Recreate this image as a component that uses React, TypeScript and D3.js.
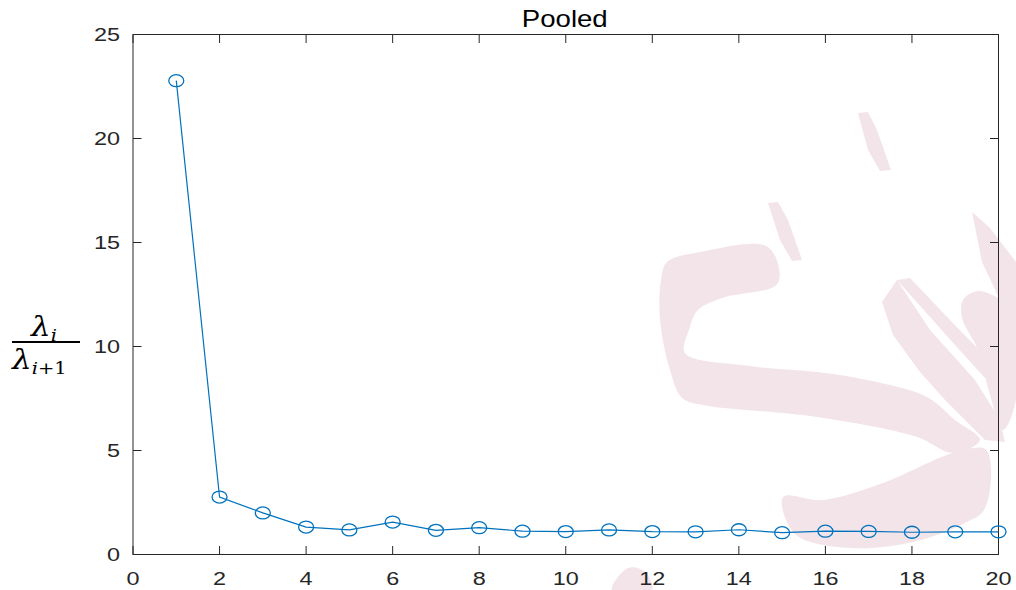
import React, { useEffect, useRef } from "react";
import * as d3 from "d3";

const indices = [1, 2, 3, 4, 5, 6, 7, 8, 9, 10, 11, 12, 13, 14, 15, 16, 17, 18, 19, 20];
const ratios = [22.78, 2.76, 2.0, 1.32, 1.18, 1.56, 1.16, 1.29, 1.12, 1.1, 1.18, 1.1, 1.09, 1.19, 1.05, 1.12, 1.11, 1.07, 1.09, 1.09];
const xTicks = [0, 2, 4, 6, 8, 10, 12, 14, 16, 18, 20];
const yTicks = [0, 5, 10, 15, 20, 25];
const titleText = "Pooled";

// Faint background emblem shapes (pixel space); smooth = rounded outline
const emblemShapes: { smooth: boolean; pts: [number, number][] }[] = [
  { smooth: true, pts: [[667, 262], [700, 252], [768, 247], [778, 283], [722, 298], [698, 310], [689, 330], [685, 353], [750, 366], [817, 372], [872, 381], [927, 397], [955, 420], [980, 440], [953, 453], [917, 437], [817, 417], [703, 405], [682, 398], [670, 370], [660, 320], [661, 280]] },
  { smooth: true, pts: [[783, 497], [823, 500], [883, 483], [953, 453], [985, 449], [991, 468], [984, 510], [967, 522], [917, 541], [850, 548], [795, 534]] },
  { smooth: false, pts: [[882, 302], [897, 280], [930, 330], [975, 380], [1000, 420], [1005, 442], [985, 440], [945, 400], [920, 372], [893, 335]] },
  { smooth: false, pts: [[897, 280], [910, 278], [950, 320], [985, 356], [995, 372], [985, 378], [955, 345]] },
  { smooth: false, pts: [[972, 212], [990, 228], [1016, 262], [1016, 330], [1000, 300], [982, 262]] },
  { smooth: true, pts: [[963, 300], [978, 291], [1000, 298], [1016, 302], [1016, 400], [1003, 430], [990, 395], [978, 350], [962, 318]] },
  { smooth: false, pts: [[858, 113], [868, 112], [877, 130], [891, 170], [880, 171], [868, 150]] },
  { smooth: false, pts: [[768, 203], [778, 202], [788, 220], [802, 260], [792, 261], [780, 240]] },
  { smooth: true, pts: [[612, 590], [628, 568], [645, 572], [652, 590]] },
];

export default function App() {
  const ref = useRef<SVGSVGElement | null>(null);

  useEffect(() => {
    const svg = d3.select(ref.current);
    svg.selectAll("*").remove();

    const left = 133, right = 998.5, top = 34.5, bottom = 554.5;
    const x = d3.scaleLinear().domain([0, 20]).range([left, right]);
    const y = d3.scaleLinear().domain([0, 25]).range([bottom, top]);
    const axisColor = "#262626";
    const font = "'Liberation Sans', Arial, Helvetica, sans-serif";
    const stretch = 1.26;

    // emblem
    const g0 = svg.append("g");
    emblemShapes.forEach((s) => {
      const gen = d3.line().curve(s.smooth ? d3.curveCatmullRomClosed.alpha(0.5) : d3.curveLinearClosed);
      g0.append("path").attr("d", gen(s.pts) as string).attr("fill", "#f3e4e9");
    });

    // box
    svg.append("rect")
      .attr("x", left).attr("y", top)
      .attr("width", right - left).attr("height", bottom - top)
      .attr("fill", "none").attr("stroke", axisColor).attr("stroke-width", 1);

    const tickLen = 8.5;
    const tg = svg.append("g").attr("stroke", axisColor).attr("stroke-width", 1);
    xTicks.forEach((t) => {
      tg.append("line").attr("x1", x(t)).attr("x2", x(t)).attr("y1", bottom).attr("y2", bottom - tickLen);
      tg.append("line").attr("x1", x(t)).attr("x2", x(t)).attr("y1", top).attr("y2", top + tickLen);
    });
    yTicks.forEach((t) => {
      tg.append("line").attr("x1", left).attr("x2", left + tickLen).attr("y1", y(t)).attr("y2", y(t));
      tg.append("line").attr("x1", right).attr("x2", right - tickLen).attr("y1", y(t)).attr("y2", y(t));
    });

    svg.append("g").selectAll("text").data(xTicks).join("text")
      .attr("transform", (d) => `translate(${x(d)},585) scale(${stretch},1)`)
      .attr("text-anchor", "middle")
      .attr("font-family", font).attr("font-size", 18.6).attr("fill", axisColor)
      .text((d) => String(d));

    svg.append("g").selectAll("text").data(yTicks).join("text")
      .attr("transform", (d) => `translate(120,${y(d) + 6.7}) scale(${stretch},1)`)
      .attr("text-anchor", "end")
      .attr("font-family", font).attr("font-size", 18.6).attr("fill", axisColor)
      .text((d) => String(d));

    svg.append("text")
      .attr("transform", `translate(${(left + right) / 2 - 1},26.5) scale(1.2,1)`)
      .attr("text-anchor", "middle")
      .attr("font-family", font).attr("font-size", 23).attr("fill", "#000")
      .text(titleText);

    // y label: lambda_i / lambda_{i+1}
    const serif = "'DejaVu Serif', 'Liberation Serif', serif";
    const lab = svg.append("g").attr("fill", "#000").attr("font-family", serif);
    const num = lab.append("text").attr("transform", "translate(31,336) scale(1.15,1)").attr("font-size", 27).attr("font-style", "italic");
    num.append("tspan").text("λ");
    num.append("tspan").attr("dy", 5).attr("font-size", 17).text("i");
    lab.append("line").attr("x1", 12).attr("x2", 80).attr("y1", 342).attr("y2", 342)
      .attr("stroke", "#000").attr("stroke-width", 1.8);
    const den = lab.append("text").attr("transform", "translate(12,369) scale(1.15,1)").attr("font-size", 27).attr("font-style", "italic");
    den.append("tspan").text("λ");
    den.append("tspan").attr("dy", 5).attr("font-size", 17).text("i");
    den.append("tspan").attr("font-size", 17).attr("font-style", "normal").text("+1");

    // series
    const blue = "#0072BD";
    const pts = indices.map((d, i) => [x(d), y(ratios[i])] as [number, number]);
    svg.append("path")
      .attr("d", d3.line()(pts) as string)
      .attr("fill", "none").attr("stroke", blue).attr("stroke-width", 1.2);
    svg.append("g").selectAll("ellipse").data(pts).join("ellipse")
      .attr("cx", (d) => d[0]).attr("cy", (d) => d[1])
      .attr("rx", 7.5).attr("ry", 6)
      .attr("fill", "none").attr("stroke", blue).attr("stroke-width", 1.3);
  }, []);

  return (
    <svg ref={ref} width={1016} height={590}
      style={{ position: "absolute", left: 0, top: 0, background: "#fff" }} />
  );
}
